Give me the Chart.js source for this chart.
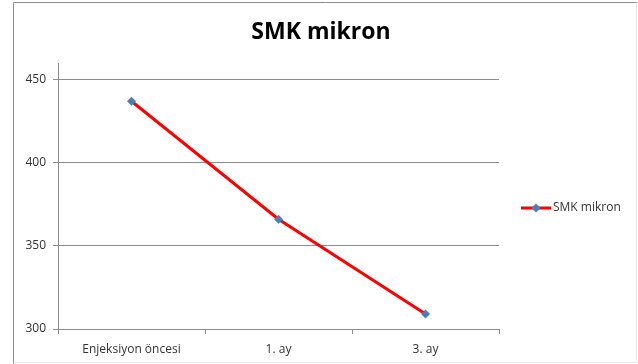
<!DOCTYPE html>
<html><head><meta charset="utf-8">
<script src="https://cdn.jsdelivr.net/npm/chart.js@4/dist/chart.umd.min.js"></script>
<style>html,body{margin:0;padding:0;background:#fff;}#wrap{width:638px;height:364px;position:relative;}</style>
</head><body><div id="wrap"><canvas id="c" width="638" height="364"></canvas></div>
<script>
const categories = ["Enjeksiyon öncesi", "1. ay", "3. ay"];
const seriesName = "SMK mikron";
const values = [437, 366, 309];
const yTicks = [300, 350, 400, 450];

const FONT = "'Open Sans', 'Liberation Sans', sans-serif";

const frame = {
  id: 'frame',
  beforeDraw(chart) {
    const ctx = chart.ctx;
    ctx.save();
    ctx.fillStyle = '#fff';
    ctx.fillRect(0, 0, chart.width, chart.height);
    ctx.strokeStyle = '#8c8c8c';
    ctx.lineWidth = 1;
    ctx.beginPath();
    ctx.moveTo(13.5, 364); ctx.lineTo(13.5, 2.5); ctx.lineTo(637.5, 2.5);
    ctx.stroke();
    ctx.strokeStyle = '#e8e8e8';
    ctx.beginPath();
    ctx.moveTo(636.5, 2.5); ctx.lineTo(636.5, 362.5); ctx.lineTo(13.5, 362.5);
    ctx.stroke();
    // title
    ctx.fillStyle = '#000';
    ctx.font = "bold 23px " + FONT;
    ctx.textAlign = 'center';
    ctx.textBaseline = 'middle';
    ctx.fillText(seriesName, 321, 32);
    ctx.restore();
  }
};

const legendPlug = {
  id: 'legendPlug',
  afterDraw(chart) {
    const ctx = chart.ctx;
    const ds = chart.data.datasets[0];
    const y = 208;
    ctx.save();
    ctx.strokeStyle = ds.borderColor;
    ctx.lineWidth = 3;
    ctx.beginPath(); ctx.moveTo(521, y); ctx.lineTo(551, y); ctx.stroke();
    ctx.fillStyle = ds.pointBackgroundColor;
    ctx.beginPath();
    ctx.moveTo(536, y - 4.5); ctx.lineTo(540.5, y); ctx.lineTo(536, y + 4.5); ctx.lineTo(531.5, y);
    ctx.closePath(); ctx.fill();
    ctx.fillStyle = '#333';
    ctx.font = "12px " + FONT;
    ctx.textBaseline = 'middle';
    ctx.textAlign = 'left';
    ctx.fillText(ds.label, 553, y);
    ctx.restore();
  }
};

new Chart(document.getElementById('c'), {
  type: 'line',
  data: {
    labels: categories,
    datasets: [{
      label: seriesName,
      data: values,
      borderColor: '#ff0000',
      borderWidth: 3,
      pointStyle: 'rectRot',
      pointRadius: 4.5,
      pointBackgroundColor: '#4a7ebb',
      pointBorderColor: '#4a7ebb',
      pointBorderWidth: 0,
      tension: 0
    }]
  },
  options: {
    responsive: false,
    animation: false,
    events: [],
    layout: { padding: { left: 13, right: 139, top: 63, bottom: 0 } },
    plugins: {
      legend: { display: false },
      tooltip: { enabled: false },
      title: { display: false }
    },
    scales: {
      x: {
        type: 'category',
        offset: true,
        afterFit(scale) { scale.height = 35; },
        grid: { offset: true, drawOnChartArea: false, drawTicks: true, tickLength: 5, color: '#8c8c8c' },
        border: { color: '#8c8c8c' },
        ticks: { color: '#333', font: { family: FONT, size: 12 }, padding: 8, maxRotation: 0 }
      },
      y: {
        min: 300, max: 460,
        afterBuildTicks(scale) { scale.ticks = yTicks.map(v => ({ value: v })); },
        afterFit(scale) { scale.width = 45; },
        grid: { color: '#8c8c8c', tickLength: 5 },
        border: { color: '#8c8c8c' },
        ticks: { color: '#333', font: { family: FONT, size: 12 }, padding: 7 }
      }
    }
  },
  plugins: [frame, legendPlug]
});
</script></body></html>
